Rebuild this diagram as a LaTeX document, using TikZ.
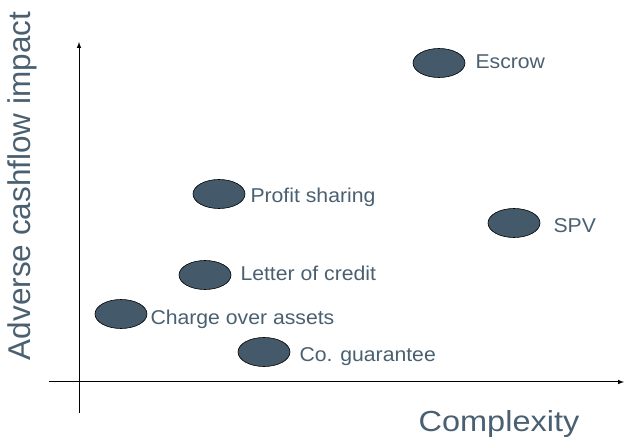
\documentclass[tikz,border=0pt]{standalone}
\usepackage{fontspec}
\setmainfont{Liberation Sans}
\usepackage{tikz}
\usetikzlibrary{shapes.geometric, positioning}
\definecolor{ovalBlue}{RGB}{68, 89, 105}
\definecolor{labelBlue}{RGB}{74, 96, 112}

\begin{document}
\begin{tikzpicture} [
        x=1pt, y=-1pt,
        axis/.style={draw, line width=1pt, -latex},
        oval/.style={draw, ellipse, fill=ovalBlue, line width=.6pt, minimum width=52pt, minimum height=29pt, inner sep=0pt},
        label oval/.style={font=\fontsize{20}{20}\selectfont, text=labelBlue, inner sep=0pt, text height=14.3pt, text depth=0pt, xscale=1.06},
        label axis/.style={font=\fontsize{29}{29}\selectfont, text=labelBlue, inner sep=0pt},
    ]
    \useasboundingbox (0,0) rectangle (625,441);

    % axes
    \coordinate (x start) at (49,382);
    \coordinate (x end) at (624,382);
    \coordinate (y start) at (79,413);
    \coordinate (y end) at (79,42);
    \draw[axis] (x start) -- (x end);
    \draw[axis] (y start) -- (y end);

    \path (499,424) node[label axis, xscale=1.12] (complexity) {Complexity};
    \path (22,186) node[label axis, rotate=90, font=\fontsize{31.5}{31.5}\selectfont] (impact) {Adverse cashflow impact};

    % instruments
    \path (439,63) node[oval] (escrow) {};
    \path (219,194) node[oval] (profit) {};
    \path (514,223) node[oval] (spv) {};
    \path (205,275) node[oval] (credit) {};
    \path (121,314) node[oval] (charge) {};
    \path (264,352) node[oval] (guarantee) {};

    \node[label oval, right=10pt of escrow, yshift=2pt] (l escrow) {Escrow};
    \node[label oval, right=5pt of profit, yshift=-1pt] (l profit) {Profit sharing};
    \node[label oval, right=13pt of spv, yshift=-2pt] (l spv) {SPV};
    \node[label oval, right=9pt of credit, yshift=2pt] (l credit) {Letter of credit};
    \node[label oval, right=3pt of charge, yshift=-3pt] (l charge) {Charge over assets};
    \node[label oval, right=9pt of guarantee, yshift=-2pt] (l guarantee) {Co. guarantee};

\end{tikzpicture}
\end{document}
